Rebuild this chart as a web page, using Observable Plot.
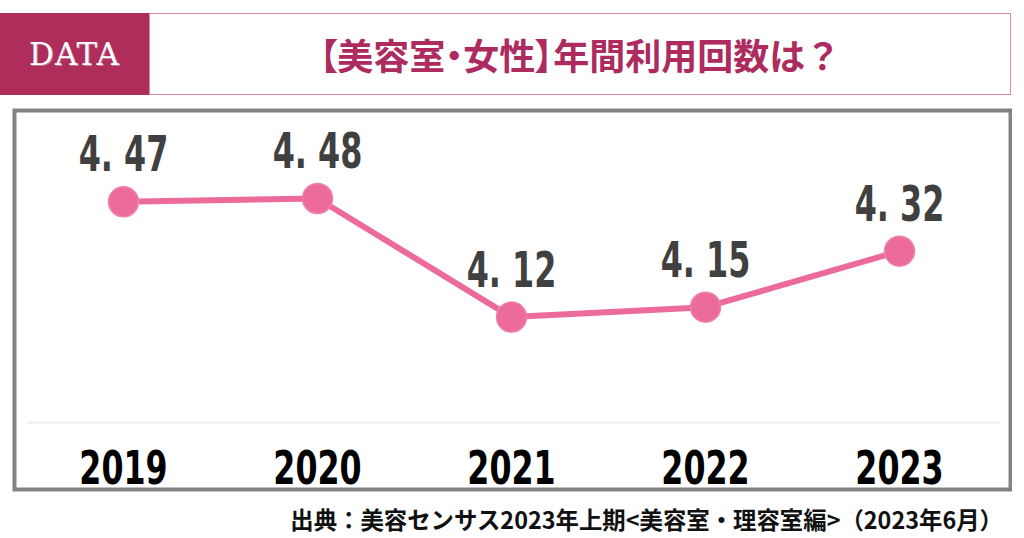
<!DOCTYPE html>
<html>
<head>
<meta charset="utf-8">
<script src="https://cdn.jsdelivr.net/npm/d3@7"></script>
<script src="https://cdn.jsdelivr.net/npm/@observablehq/plot@0.6"></script>
<style>
  html, body { margin: 0; padding: 0; background: #fff; }
  body { width: 1024px; height: 538px; position: relative; overflow: hidden; }
  #tag { position: absolute; left: 0; top: 13px; width: 149px; height: 82px; background: #ae2d5b;
         color: #fff; font-family: "DejaVu Serif", "Liberation Serif", serif; font-weight: normal;
         font-size: 31px; letter-spacing: 1px; display: flex; align-items: center; justify-content: center;
         text-shadow: 1px 1px 0 rgba(255,255,255,0.35); }
  #titlebox { position: absolute; left: 149px; top: 13px; width: 860px; height: 80px; border: 1px solid #dc86a6;
         display: flex; align-items: center; justify-content: center; }
  #title { font-family: "Noto Sans CJK JP", sans-serif; font-weight: 700; font-size: 36px; color: #ad2b5e;
           margin-left: 0px; font-feature-settings: "palt"; }
  #title .q { font-feature-settings: normal; }
  #chart { position: absolute; left: 12px; top: 108px; }
  #chart svg { display: block; }
  #caption { position: absolute; right: 21px; top: 502px; font-family: "Noto Sans CJK JP", sans-serif;
             font-weight: 700; font-size: 23.4px; color: #111; white-space: nowrap; }
</style>
</head>
<body>
<div id="tag">DATA</div>
<div id="titlebox"><div id="title">【美容室・女性】年間利用回数は<span class="q">？</span></div></div>
<div id="chart"></div>
<div id="caption">出典：美容センサス2023年上期&lt;美容室・理容室編&gt;（2023年6月）</div>
<script>
const years = ["2019", "2020", "2021", "2022", "2023"];
const visits = [4.47, 4.48, 4.12, 4.15, 4.32];
const baseline = [3.8];

const data = years.map((year, i) => ({year, value: visits[i]}));
const fmt = v => { const [a, b] = v.toFixed(2).split("."); return a + ". " + b; };

const W = 1000, H = 392;
const chart = Plot.plot({
  width: W,
  height: H,
  marginLeft: 110,
  marginRight: 112,
  marginTop: 90,
  marginBottom: 78,
  x: {type: "point", domain: years, padding: 0, label: null},
  y: {domain: [3.8, 4.48], axis: null},
  style: {background: "transparent"},
  marks: [
    Plot.frame({stroke: "#828282", strokeWidth: 4, fill: "#fff",
      insetLeft: -108, insetRight: -110, insetTop: -88, insetBottom: -67}),
    Plot.ruleY(baseline, {stroke: "#ececec", strokeWidth: 2, insetLeft: -94, insetRight: -100}),
    Plot.axisX({tickSize: 0, tickPadding: 29, fontSize: 46, fontWeight: "bold", fill: "#000",
      fontFamily: "'DejaVu Sans', sans-serif", label: null}),
    Plot.line(data, {x: "year", y: "value", stroke: "#ec6a9c", strokeWidth: 6}),
    Plot.dot(data, {x: "year", y: "value", r: 15, fill: "#ec6a9c", stroke: "#ef82ab", strokeWidth: 1.5}),
    Plot.text(data, {x: "year", y: "value", text: d => fmt(d.value), dy: -46, fontSize: 49,
      fill: "#404040", fontWeight: "bold",
      fontFamily: "'DejaVu Sans', sans-serif"})
  ]
});
document.getElementById("chart").appendChild(chart);

// condense the label glyphs horizontally (no condensed face is installed)
function condense(sel, s) {
  d3.select(chart).selectAll(sel).each(function() {
    const t = this.getAttribute("transform");
    if (t && t.includes("translate")) {
      this.setAttribute("transform", t + ` scale(${s},1)`);
    } else {
      const x = +(this.getAttribute("x") || 0), y = +(this.getAttribute("y") || 0);
      this.removeAttribute("x"); this.removeAttribute("y");
      this.setAttribute("transform", `translate(${x},${y}) ${t || ""} scale(${s},1)`);
    }
  });
}
condense("g[aria-label='x-axis tick label'] text", 0.69);
condense("g[aria-label='text'] text", 0.65);
</script>
</body>
</html>
